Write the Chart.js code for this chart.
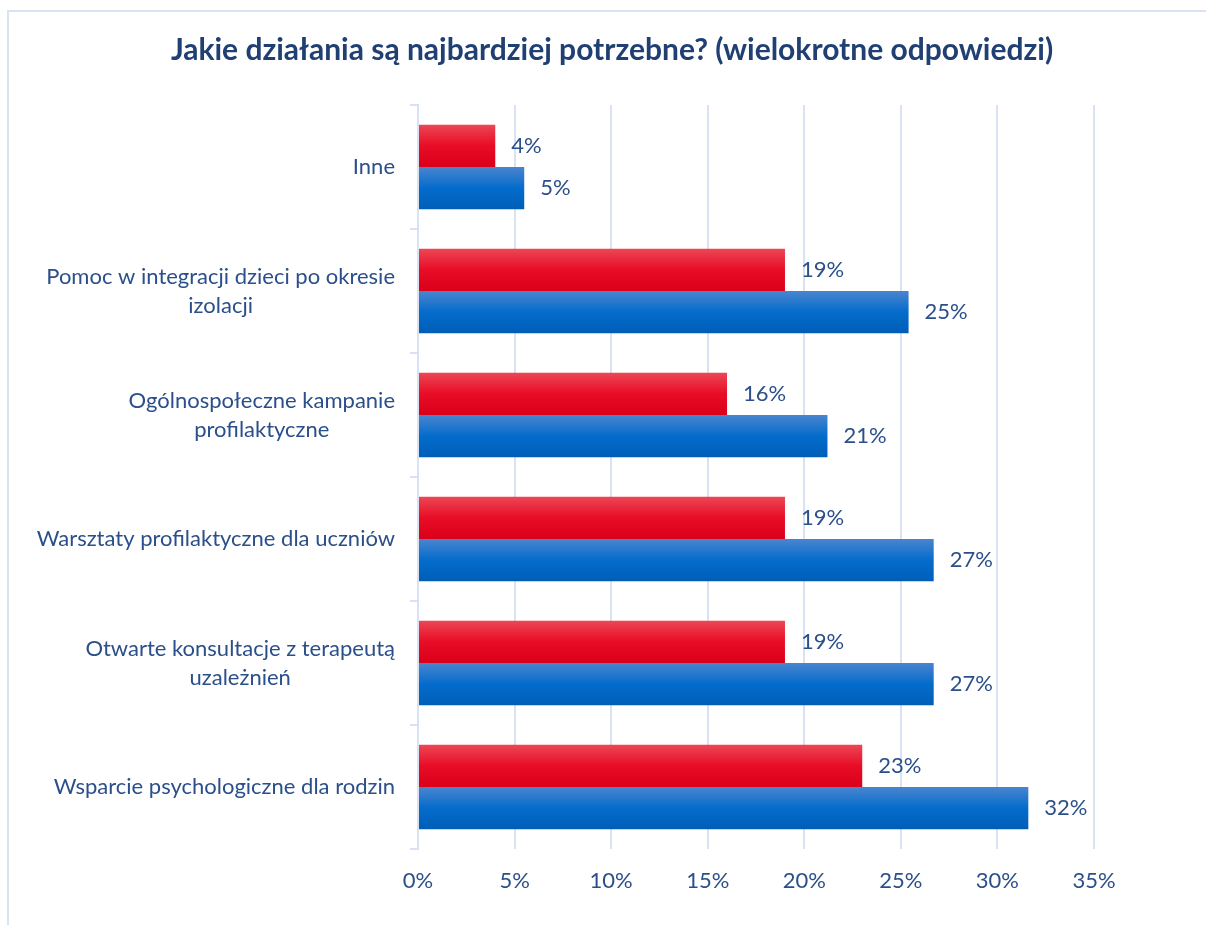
<!DOCTYPE html>
<html><head><meta charset="utf-8">
<script src="https://cdn.jsdelivr.net/npm/chart.js@4/dist/chart.umd.min.js"></script>
<style>
html,body{margin:0;padding:0;background:#fff;}
#wrap{position:relative;width:1206px;height:925px;overflow:hidden;}
#frame{position:absolute;left:7px;top:10px;width:1300px;height:1000px;border-top:2px solid #dae3f3;border-left:2px solid #dae3f3;}
canvas{position:absolute;left:0;top:0;}
</style></head><body>
<div id="wrap"><div id="frame"></div><canvas id="c" width="1206" height="925"></canvas></div>
<script>
const chartTitle = 'Jakie działania są najbardziej potrzebne? (wielokrotne odpowiedzi)';
const categories = [
  ['Inne'],
  ['Pomoc w integracji dzieci po okresie', 'izolacji'],
  ['Ogólnospołeczne kampanie', 'profilaktyczne'],
  ['Warsztaty profilaktyczne dla uczniów'],
  ['Otwarte konsultacje z terapeutą', 'uzależnień'],
  ['Wsparcie psychologiczne dla rodzin']
];
const redValues = [4.0, 19.0, 16.0, 19.0, 19.0, 23.0];
const blueValues = [5.5, 25.4, 21.2, 26.7, 26.7, 31.6];
const redLabels = ['4%', '19%', '16%', '19%', '19%', '23%'];
const blueLabels = ['5%', '25%', '21%', '27%', '27%', '32%'];
const xMin = 0, xMax = 35, xStep = 5;

const FONT = 'Lato, "Open Sans", sans-serif';
const TEXT = '#2b4f8a';
const GRID = '#d9e2f3';
const CAT_PCT = 0.68;

const redStops = [[0, '#ec4655'], [0.5, '#e80c26'], [1, '#db001a']];
const blueStops = [[0, '#4a85cf'], [0.5, '#046ccb'], [1, '#005eb9']];

function gradFor(which, stops) {
  return function (ctx) {
    const chart = ctx.chart, area = chart.chartArea, ys = chart.scales.y;
    if (!area || !ys || ctx.type !== 'data') return stops[1][1];
    const c = ys.getPixelForValue(ctx.dataIndex);
    const band = (area.bottom - area.top) / categories.length;
    const t = band * CAT_PCT / 2;
    const top = which === 0 ? c - t : c;
    const g = chart.ctx.createLinearGradient(0, top, 0, top + t);
    stops.forEach(s => g.addColorStop(s[0], s[1]));
    return g;
  };
}

const labelPlugin = {
  id: 'labels',
  afterDatasetsDraw(chart) {
    const ctx = chart.ctx;
    ctx.save();
    ctx.font = '22px ' + FONT;
    ctx.fillStyle = TEXT;
    ctx.textAlign = 'left';
    ctx.textBaseline = 'middle';
    const sets = [redLabels, blueLabels];
    chart.data.datasets.forEach((ds, i) => {
      chart.getDatasetMeta(i).data.forEach((el, j) => {
        ctx.fillText(sets[i][j], el.x + 16, el.y);
      });
    });
    ctx.restore();
  },
  afterDraw(chart) {
    const ctx = chart.ctx, ys = chart.scales.y;
    ctx.save();
    ctx.font = 'bold 30px ' + FONT;
    ctx.fillStyle = '#203f73';
    ctx.textAlign = 'center';
    ctx.textBaseline = 'middle';
    ctx.fillText(chartTitle, 612, 50);
    ctx.font = '22px ' + FONT;
    ctx.fillStyle = TEXT;
    const lh = 29;
    categories.forEach((lines, i) => {
      const c = ys.getPixelForValue(i);
      const widest = Math.max(...lines.map(l => ctx.measureText(l).width));
      const cx = 395 - widest / 2;
      const start = c - (lines.length - 1) * lh / 2;
      lines.forEach((l, k) => ctx.fillText(l, cx, start + k * lh));
    });
    ctx.restore();
  }
};

new Chart(document.getElementById('c'), {
  type: 'bar',
  data: {
    labels: categories,
    datasets: [
      { data: redValues, backgroundColor: gradFor(0, redStops), categoryPercentage: CAT_PCT, barPercentage: 1 },
      { data: blueValues, backgroundColor: gradFor(1, blueStops), categoryPercentage: CAT_PCT, barPercentage: 1 }
    ]
  },
  options: {
    indexAxis: 'y',
    responsive: false,
    animation: false,
    layout: { padding: { top: 105, left: 0, right: 112, bottom: 0 } },
    plugins: {
      legend: { display: false },
      tooltip: { enabled: false },
      title: { display: false }
    },
    scales: {
      x: {
        min: xMin, max: xMax,
        afterFit(s) { s.height = 76; },
        grid: { color: GRID, lineWidth: 2, drawTicks: false },
        border: { display: false },
        ticks: { stepSize: xStep, color: TEXT, font: { family: FONT, size: 22 }, padding: 19, callback: v => v + '%' }
      },
      y: {
        afterFit(s) { s.width = 418; },
        grid: { color: GRID, lineWidth: 2, drawOnChartArea: false, tickLength: 8, offset: true },
        border: { display: true, color: GRID, width: 2 },
        ticks: { display: false }
      }
    }
  },
  plugins: [labelPlugin]
});
</script>
</body></html>
